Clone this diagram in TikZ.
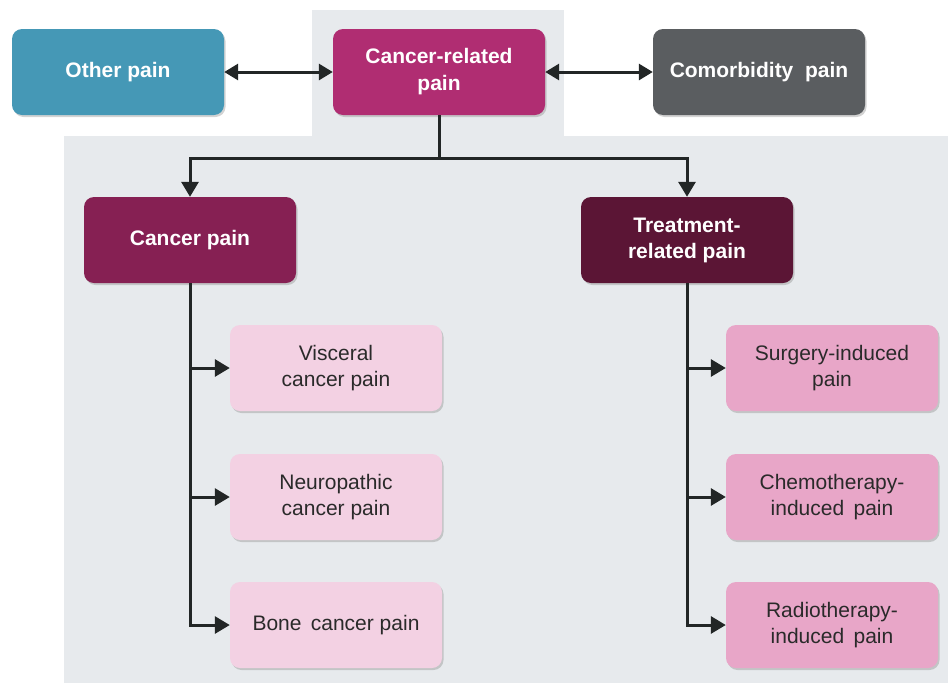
\documentclass[tikz,border=0pt]{standalone}
\usepackage{fontspec}
\setmainfont{Liberation Sans}
\usetikzlibrary{shadows,arrows.meta}
\definecolor{bgray}{HTML}{E7EAED}
\definecolor{cteal}{HTML}{4598B6}
\definecolor{cmag}{HTML}{B02D72}
\definecolor{cdgray}{HTML}{5A5D60}
\definecolor{cplum}{HTML}{862053}
\definecolor{cdplum}{HTML}{5B1535}
\definecolor{clpink}{HTML}{F3D1E3}
\definecolor{cmpink}{HTML}{E8A6C8}
\definecolor{ctext}{HTML}{2A2A2A}
\definecolor{cline}{HTML}{222626}
\tikzset{
  x=1pt, y=-1pt,
  box/.style={rounded corners=10pt, minimum width=212pt, minimum height=86pt,
    align=center, inner sep=0pt,
    drop shadow={opacity=0.35, shadow xshift=1.5pt, shadow yshift=-2pt}},
  topbox/.style={box, text=white, font=\fontsize{21}{27}\selectfont\bfseries},
  midbox/.style={box, text=white, font=\fontsize{21}{26}\selectfont\bfseries},
  subbox/.style={box, text=ctext, font=\fontsize{21}{26}\selectfont},
  conn/.style={draw=cline, line width=3pt, -{Triangle[length=15pt,width=17pt]}},
  dconn/.style={draw=cline, line width=3pt, {Triangle[length=14pt,width=16pt]}-{Triangle[length=14pt,width=16pt]}}
}
\begin{document}
\begin{tikzpicture}
\useasboundingbox (0,0) rectangle (948,683);
\fill[bgray] (312,10) rectangle (564,137);
\fill[bgray] (64,136) rectangle (948,683);

\node[topbox, fill=cteal] (other) at (118,72) {Other pain};
\node[topbox, fill=cmag] (crp) at (439,72) {Cancer-related\\pain};
\node[topbox, fill=cdgray] (com) at (759,72) {Comorbidity\ \ pain};

\node[midbox, fill=cplum] (cp) at (190,240) {Cancer pain};
\node[midbox, fill=cdplum] (trp) at (687,240) {Treatment-\\related pain};

\node[subbox, fill=clpink] (vis) at (336,368) {Visceral\\cancer pain};
\node[subbox, fill=clpink] (neu) at (336,497) {Neuropathic\\cancer pain};
\node[subbox, fill=clpink] (bone) at (336,625) {Bone\ \,cancer pain};

\node[subbox, fill=cmpink] (surg) at (832,368) {Surgery-induced\\pain};
\node[subbox, fill=cmpink] (chemo) at (832,497) {Chemotherapy-\\induced\ \,pain};
\node[subbox, fill=cmpink] (radio) at (832,625) {Radiotherapy-\\induced\ \,pain};

\draw[dconn] (other.east) -- (crp.west);
\draw[dconn] (crp.east) -- (com.west);

\coordinate (split) at (439,158);
\draw[draw=cline, line width=3pt] (crp.south) -- (split);
\draw[conn] (split) -| (cp.north);
\draw[conn] (split) -| (trp.north);

\draw[conn] (cp.south) |- (bone.west);
\draw[conn] (cp.south |- vis.west) -- (vis.west);
\draw[conn] (cp.south |- neu.west) -- (neu.west);

\draw[conn] (trp.south) |- (radio.west);
\draw[conn] (trp.south |- surg.west) -- (surg.west);
\draw[conn] (trp.south |- chemo.west) -- (chemo.west);
\end{tikzpicture}
\end{document}
